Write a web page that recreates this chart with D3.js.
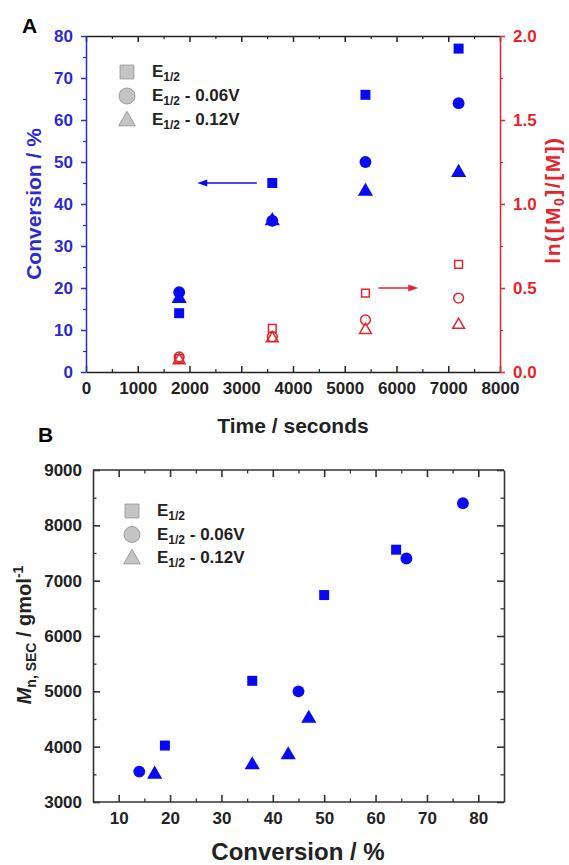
<!DOCTYPE html>
<html>
<head>
<meta charset="utf-8">
<script src="https://cdn.jsdelivr.net/npm/d3@7"></script>
<style>
body { margin: 0; background: #fff; }
text { font-family: "Liberation Sans", Arial, sans-serif; font-weight: bold; }
</style>
</head>
<body>
<div id="container"></div>
<script>
let w = 569;
let h = 865;

// panel A data (time in seconds)
let times = [1800, 3600, 5400, 7200];
let convSquare = [14, 45, 66, 77];
let convCircle = [19, 36, 50, 64];
let convTriangle = [17.5, 36, 43, 47.5];
let lnSquare = [0.08, 0.26, 0.47, 0.64];
let lnCircle = [0.09, 0.21, 0.31, 0.44];
let lnTriangle = [0.07, 0.20, 0.25, 0.28];

// panel B data
let bSquareX = [19, 36, 50, 64];
let bSquareY = [4020, 5190, 6740, 7560];
let bCircleX = [14, 45, 66, 77];
let bCircleY = [3550, 5000, 7400, 8400];
let bTriangleX = [17, 36, 43, 47];
let bTriangleY = [3500, 3670, 3850, 4510];

let timeTicks = [0, 1000, 2000, 3000, 4000, 5000, 6000, 7000, 8000];
let convTicks = [0, 10, 20, 30, 40, 50, 60, 70, 80];
let lnTicks = [0, 0.5, 1.0, 1.5, 2.0];
let bXTicks = [10, 20, 30, 40, 50, 60, 70, 80];
let bYTicks = [3000, 4000, 5000, 6000, 7000, 8000, 9000];

let legendNames = ["", " - 0.06V", " - 0.12V"];
let legendShapes = [d3.symbolSquare, d3.symbolCircle, d3.symbolTriangle];

let blue = "#0a0af0";
let blueAxis = "#2b2bd0";
let red = "#e3262c";
let black = "#222";

let viz = d3.select("#container").append("svg")
    .attr("width", w)
    .attr("height", h);

function bold(sel, size, color){
  sel.selectAll("text").style("font-size", size + "px").attr("fill", color)
    .style("font-family", "'Liberation Sans', Arial, sans-serif").style("font-weight", "bold");
}

function styleAxis(g, color, width){
  g.selectAll("path").attr("stroke", color).attr("stroke-width", width);
  g.selectAll("line").attr("stroke", color).attr("stroke-width", width);
}

function minors(majors){
  let out = [];
  for (let i = 0; i < majors.length - 1; i++) out.push((majors[i] + majors[i+1]) / 2);
  return out;
}

function drawPoints(group, xs, ys, xScale, yScale, shape, size, filled, color){
  let data = xs.map((x, i) => ({x: x, y: ys[i]}));
  group.selectAll(null).data(data).enter().append("path")
    .attr("d", d3.symbol().type(shape).size(size))
    .attr("transform", d => "translate(" + xScale(d.x) + "," + yScale(d.y) + ")")
    .attr("fill", filled ? color : "none")
    .attr("stroke", color)
    .attr("stroke-width", filled ? 0 : 1.5);
}

function drawLegend(x, y0, step){
  let lg = viz.append("g");
  legendShapes.forEach((s, i) => {
    let sz = s === d3.symbolTriangle ? 120 : (s === d3.symbolSquare ? 190 : 200);
    let dyShape = s === d3.symbolTriangle ? 1 : 0;
    lg.append("path")
      .attr("d", d3.symbol().type(s).size(sz))
      .attr("transform", "translate(" + x + "," + (y0 + i*step + dyShape) + ")")
      .attr("fill", "#c4c4c4").attr("stroke", "#9c9c9c").attr("stroke-width", 1);
    let t = lg.append("text").attr("x", x + 25).attr("y", y0 + i*step + 5)
      .style("font-size", "17px").attr("fill", black);
    t.append("tspan").text("E");
    t.append("tspan").text("1/2").style("font-size", "12px").attr("dy", 4);
    t.append("tspan").text(legendNames[i]).attr("dy", -4);
  });
}

function arrow(x1, x2, y, color){
  viz.append("line").attr("x1", x1).attr("x2", x2 + (x2 < x1 ? 8 : -8)).attr("y1", y).attr("y2", y)
    .attr("stroke", color).attr("stroke-width", 1.6);
  let d = x2 < x1 ? 1 : -1;
  viz.append("path")
    .attr("d", "M" + x2 + "," + y + "L" + (x2 + 10*d) + "," + (y - 3.5) + "L" + (x2 + 10*d) + "," + (y + 3.5) + "Z")
    .attr("fill", color);
}

// ---------------- panel A ----------------
let xA = d3.scaleLinear().domain([0, 8000]).range([86, 500]);
let yA = d3.scaleLinear().domain([0, 80]).range([372, 36]);
let yA2 = d3.scaleLinear().domain([0, 2]).range([372, 36]);

// top axis
let topA = viz.append("g").attr("transform", "translate(0,36)")
  .call(d3.axisTop(xA).tickValues(timeTicks).tickSizeInner(-6).tickSizeOuter(0).tickFormat(""));
styleAxis(topA, black, 1.5);
let topAm = viz.append("g").attr("transform", "translate(0,36)")
  .call(d3.axisTop(xA).tickValues(minors(timeTicks)).tickSizeInner(-3).tickSizeOuter(0).tickFormat(""));
styleAxis(topAm, black, 1.2);
topAm.select("path").remove();

// bottom axis
let botA = viz.append("g").attr("transform", "translate(0,372)")
  .call(d3.axisBottom(xA).tickValues(timeTicks).tickSizeInner(-6).tickSizeOuter(0).tickPadding(10).tickFormat(d3.format("d")));
styleAxis(botA, black, 1.5);
bold(botA, 17, black);
let botAm = viz.append("g").attr("transform", "translate(0,372)")
  .call(d3.axisBottom(xA).tickValues(minors(timeTicks)).tickSizeInner(-3).tickSizeOuter(0).tickFormat(""));
styleAxis(botAm, black, 1.2);
botAm.select("path").remove();

// left axis
let leftA = viz.append("g").attr("transform", "translate(86,0)")
  .call(d3.axisLeft(yA).tickValues(convTicks).tickSizeInner(5).tickSizeOuter(0).tickPadding(8));
styleAxis(leftA, blueAxis, 1.5);
bold(leftA, 17, blueAxis);
let leftAm = viz.append("g").attr("transform", "translate(86,0)")
  .call(d3.axisLeft(yA).tickValues(minors(convTicks)).tickSizeInner(3).tickSizeOuter(0).tickFormat(""));
styleAxis(leftAm, blueAxis, 1.2);
leftAm.select("path").remove();

// right axis
let rightA = viz.append("g").attr("transform", "translate(500,0)")
  .call(d3.axisRight(yA2).tickValues(lnTicks).tickSizeInner(5).tickSizeOuter(0).tickPadding(8).tickFormat(d3.format(".1f")));
styleAxis(rightA, red, 1.5);
bold(rightA, 17, red);
let rightAm = viz.append("g").attr("transform", "translate(500,0)")
  .call(d3.axisRight(yA2).tickValues(minors(lnTicks)).tickSizeInner(3).tickSizeOuter(0).tickFormat(""));
styleAxis(rightAm, red, 1.2);
rightAm.select("path").remove();

let ptsA = viz.append("g");
drawPoints(ptsA, times, lnSquare, xA, yA2, d3.symbolSquare, 60, false, red);
drawPoints(ptsA, times, lnCircle, xA, yA2, d3.symbolCircle, 75, false, red);
drawPoints(ptsA, times, lnTriangle, xA, yA2, d3.symbolTriangle, 60, false, red);
drawPoints(ptsA, times, convSquare, xA, yA, d3.symbolSquare, 100, true, blue);
drawPoints(ptsA, times, convCircle, xA, yA, d3.symbolCircle, 110, true, blue);
drawPoints(ptsA, times, convTriangle, xA, yA, d3.symbolTriangle, 100, true, blue);

arrow(xA(3300), xA(2150), yA(45), blue);
arrow(xA(5650), xA(6420), yA2(0.5), red);

drawLegend(127, 72, 24);

viz.append("text").attr("x", 22).attr("y", 33).text("A").style("font-size", "21px").attr("fill", "#000");
viz.append("text").attr("x", 293).attr("y", 433).attr("text-anchor", "middle")
  .text("Time / seconds").style("font-size", "21px").attr("fill", black);
viz.append("text").attr("transform", "translate(41,204) rotate(-90)").attr("text-anchor", "middle")
  .text("Conversion / %").style("font-size", "21px").attr("fill", blueAxis);
let lnLabel = viz.append("text").attr("transform", "translate(560,200) rotate(-90)").attr("text-anchor", "middle")
  .style("font-size", "21px").attr("fill", red).style("letter-spacing", "1.5px");
lnLabel.append("tspan").text("ln([M");
lnLabel.append("tspan").text("0").style("font-size", "14px").attr("dy", 4);
lnLabel.append("tspan").text("]/[M])").attr("dy", -4);

// ---------------- panel B ----------------
let xB = d3.scaleLinear().domain([5, 85]).range([93, 504]);
let yB = d3.scaleLinear().domain([3000, 9000]).range([802, 470]);
let grey = "#333";

let botB = viz.append("g").attr("transform", "translate(0,802)")
  .call(d3.axisBottom(xB).tickValues(bXTicks).tickSizeInner(-7).tickSizeOuter(0).tickPadding(10));
styleAxis(botB, grey, 1.6);
bold(botB, 17, black);
botB.select("path").attr("d", "M93,0H504");
let botBm = viz.append("g").attr("transform", "translate(0,802)")
  .call(d3.axisBottom(xB).tickValues(minors(bXTicks)).tickSizeInner(-3.5).tickSizeOuter(0).tickFormat(""));
styleAxis(botBm, grey, 1.3);
botBm.select("path").remove();

let topB = viz.append("g").attr("transform", "translate(0,470)")
  .call(d3.axisTop(xB).tickValues(bXTicks).tickSizeInner(-7).tickSizeOuter(0).tickFormat(""));
styleAxis(topB, grey, 1.6);
topB.select("path").attr("d", "M93,0H504");
let topBm = viz.append("g").attr("transform", "translate(0,470)")
  .call(d3.axisTop(xB).tickValues(minors(bXTicks)).tickSizeInner(-3.5).tickSizeOuter(0).tickFormat(""));
styleAxis(topBm, grey, 1.3);
topBm.select("path").remove();

let leftB = viz.append("g").attr("transform", "translate(93,0)")
  .call(d3.axisLeft(yB).tickValues(bYTicks).tickSizeInner(-7).tickSizeOuter(0).tickPadding(11).tickFormat(d3.format("d")));
styleAxis(leftB, grey, 1.6);
bold(leftB, 17, black);
let leftBm = viz.append("g").attr("transform", "translate(93,0)")
  .call(d3.axisLeft(yB).tickValues(minors(bYTicks)).tickSizeInner(-3.5).tickSizeOuter(0).tickFormat(""));
styleAxis(leftBm, grey, 1.3);
leftBm.select("path").remove();

let rightB = viz.append("g").attr("transform", "translate(504,0)")
  .call(d3.axisRight(yB).tickValues(bYTicks).tickSizeInner(-7).tickSizeOuter(0).tickFormat(""));
styleAxis(rightB, grey, 1.6);
let rightBm = viz.append("g").attr("transform", "translate(504,0)")
  .call(d3.axisRight(yB).tickValues(minors(bYTicks)).tickSizeInner(-3.5).tickSizeOuter(0).tickFormat(""));
styleAxis(rightBm, grey, 1.3);
rightBm.select("path").remove();

let ptsB = viz.append("g");
drawPoints(ptsB, bSquareX, bSquareY, xB, yB, d3.symbolSquare, 100, true, blue);
drawPoints(ptsB, bCircleX, bCircleY, xB, yB, d3.symbolCircle, 110, true, blue);
drawPoints(ptsB, bTriangleX, bTriangleY, xB, yB, d3.symbolTriangle, 100, true, blue);

drawLegend(132, 511, 23.5);

viz.append("text").attr("x", 38).attr("y", 442).text("B").style("font-size", "21px").attr("fill", "#000");
viz.append("text").attr("x", 298).attr("y", 860).attr("text-anchor", "middle")
  .text("Conversion / %").style("font-size", "24px").attr("fill", black);
let mnLabel = viz.append("text").attr("transform", "translate(31,635) rotate(-90)").attr("text-anchor", "middle")
  .style("font-size", "20px").attr("fill", black);
mnLabel.append("tspan").text("M").style("font-style", "italic");
mnLabel.append("tspan").text("n, SEC").style("font-size", "14px").attr("dy", 5);
mnLabel.append("tspan").text(" / gmol").attr("dy", -5);
mnLabel.append("tspan").text("-1").style("font-size", "14px").attr("dy", -8);
</script>
</body>
</html>
